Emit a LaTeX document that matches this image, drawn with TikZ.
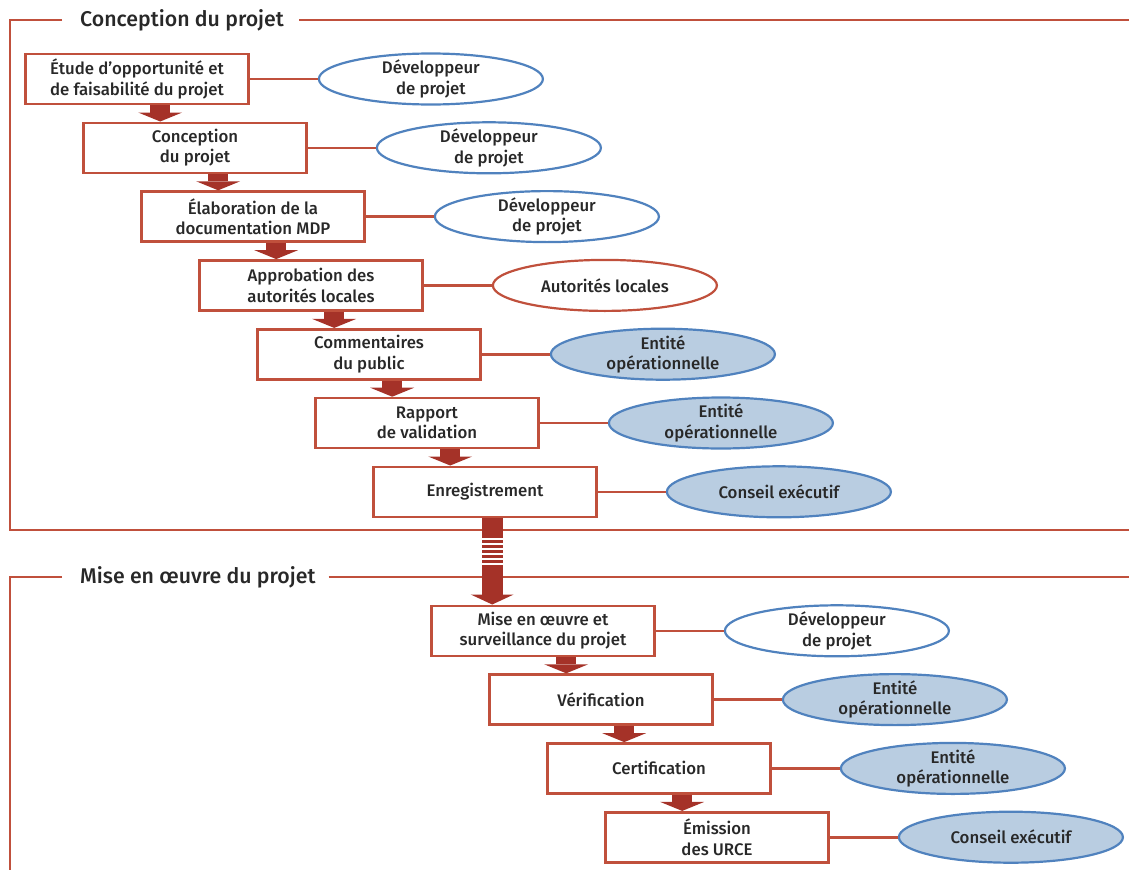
\documentclass[tikz,border=0pt]{standalone}
\usepackage{fontspec}
\setmainfont{Fira Sans Medium}
\usetikzlibrary{
	arrows.meta,
	positioning,
	calc,
	shapes.geometric
}

\definecolor{brick}{RGB}{192,80,60}
\definecolor{darkbrick}{RGB}{165,50,40}
\definecolor{steelblue}{RGB}{80,130,190}
\definecolor{paleblue}{RGB}{185,205,225}
\definecolor{inkgray}{RGB}{40,40,40}

\newcommand{\boxfont}{\fontsize{16.8}{20.5}\selectfont}
\newcommand{\titlefont}{\fontsize{21.3}{25}\selectfont}

\tikzset{
	stepbox/.style={draw=brick, line width=2.6pt, fill=white, minimum width=223pt, minimum height=50pt, inner sep=0pt, align=center, text=inkgray, font=\boxfont},
	actor/.style={ellipse, draw=steelblue, line width=2.2pt, fill=white, minimum width=224pt, minimum height=51pt, inner sep=-4pt, align=center, text=inkgray, font=\boxfont},
	localactor/.style={actor, draw=brick},
	entity/.style={actor, fill=paleblue},
	link/.style={brick, line width=2.6pt},
	frameline/.style={brick, line width=2.4pt},
	steparrow/.style={darkbrick, line width=20pt, -{Triangle[width=44pt, length=9pt, line width=0pt]}},
	bigarrow/.style={darkbrick, line width=21pt, -{Triangle[width=43pt, length=10pt, line width=0pt]}},
	sectiontitle/.style={anchor=west, inner sep=0pt, text=inkgray, font=\titlefont}
}

\begin{document}
\begin{tikzpicture}[x=1pt, y=-1pt]

	\useasboundingbox (0,0) rectangle (1129,870);

	% frames
	\node[sectiontitle] (concsec) at (80,20) {Conception du projet};
	\draw[frameline] ([xshift=-18pt]concsec.west) -| (10,530) -- (1129,530);
	\draw[frameline] ([xshift=15pt]concsec.east) -- (1129,20);

	\node[sectiontitle] (misesec) at (80,577) {Mise en œuvre du projet};
	\draw[frameline] ([xshift=-18pt]misesec.west) -| (10,870);
	\draw[frameline] ([xshift=13pt]misesec.east) -- (1129,577);

	% steps
	\node[stepbox] (etude) at (137,79) {Étude d’opportunité et\\de faisabilité du projet};
	\node[stepbox] (conc) at ($(etude)+(58,68.8)$) {Conception\\du projet};
	\node[stepbox] (elab) at ($(conc)+(58,68.8)$) {Élaboration de la\\documentation MDP};
	\node[stepbox] (appr) at ($(elab)+(58,68.8)$) {Approbation des\\autorités locales};
	\node[stepbox] (comm) at ($(appr)+(58,68.8)$) {Commentaires\\du public};
	\node[stepbox] (rapp) at ($(comm)+(58,68.8)$) {Rapport\\de validation};
	\node[stepbox] (enreg) at ($(rapp)+(58,68.8)$) {Enregistrement};

	\node[stepbox] (mise) at ($(enreg)+(58,139)$) {Mise en œuvre et\\surveillance du projet};
	\node[stepbox] (verif) at ($(mise)+(58,68.8)$) {Vérification};
	\node[stepbox] (cert) at ($(verif)+(58,68.8)$) {Certification};
	\node[stepbox] (emis) at ($(cert)+(58,68.8)$) {Émission\\des URCE};

	% actors
	\node[actor, right=68pt of etude] (dev1) {Développeur\\de projet};
	\node[actor, right=68pt of conc] (dev2) {Développeur\\de projet};
	\node[actor, right=68pt of elab] (dev3) {Développeur\\de projet};
	\node[localactor, right=68pt of appr] (autor) {Autorités locales};
	\node[entity, right=68pt of comm] (ent1) {Entité\\opérationnelle};
	\node[entity, right=68pt of rapp] (ent2) {Entité\\opérationnelle};
	\node[entity, right=68pt of enreg] (cons1) {Conseil exécutif};

	\node[actor, right=68pt of mise] (dev4) {Développeur\\de projet};
	\node[entity, right=68pt of verif] (ent3) {Entité\\opérationnelle};
	\node[entity, right=68pt of cert] (ent4) {Entité\\opérationnelle};
	\node[entity, right=68pt of emis] (cons2) {Conseil exécutif};

	\foreach \a/\b in {etude/dev1, conc/dev2, elab/dev3, appr/autor, comm/ent1, rapp/ent2, enreg/cons1, mise/dev4, verif/ent3, cert/ent4, emis/cons2}
		\draw[link] (\a) -- (\b);

	% arrows
	\foreach \a/\b in {etude/conc, conc/elab, elab/appr, appr/comm, comm/rapp, rapp/enreg, mise/verif, verif/cert, cert/emis}
		\draw[steparrow] ($(\a.south west)+(136,0)$) -- ($(\b.north west)+(78,0)$);

	\coordinate (bigtop) at ($(enreg.south west)+(120,0)$);
	\draw[bigarrow] (bigtop) -- ($(mise.north west)+(62,0)$);
	\foreach \y in {20.5,25.5,...,45.5}
		\draw[white, line width=2.2pt] ($(bigtop)+(-11,\y)$) --++ (22,0);

\end{tikzpicture}
\end{document}
